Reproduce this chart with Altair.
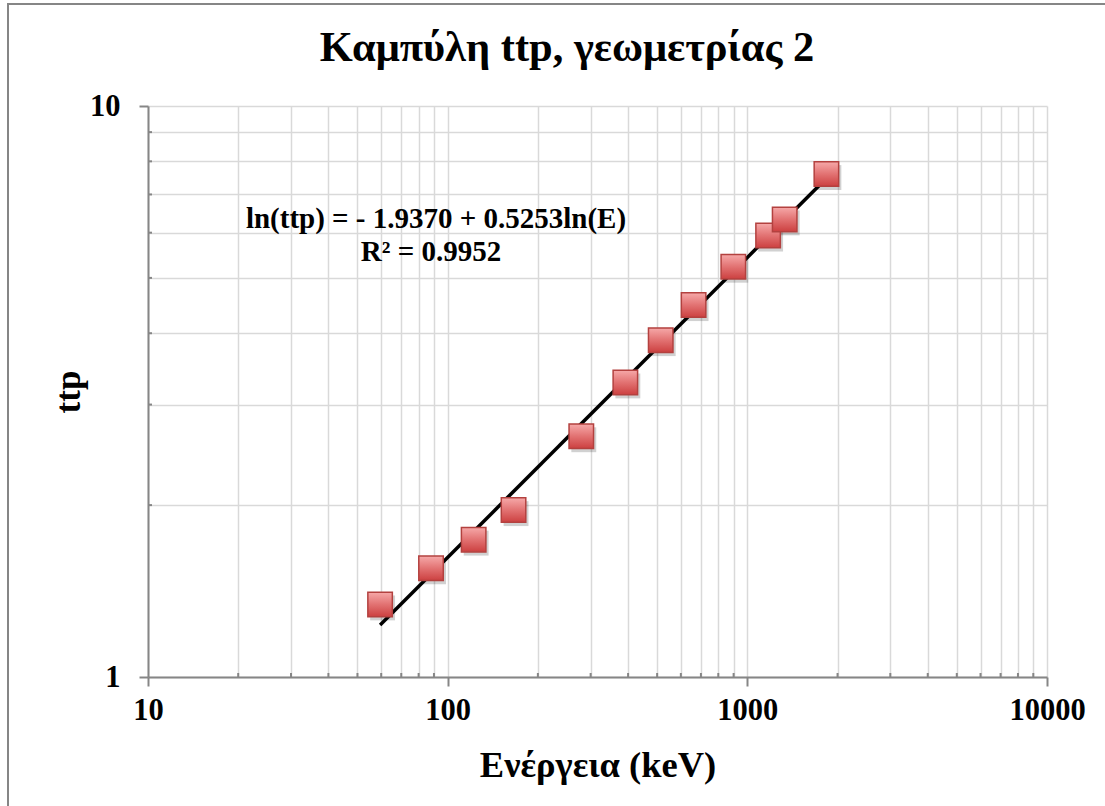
import altair as alt
import pandas as pd

# Calibration points: gamma energy (keV) and measured ttp
energy_kev = [59.5, 88.0, 122.1, 165.9, 279.2, 391.7, 514.0, 661.7, 898.0, 1173.2, 1332.5, 1836.1]
ttp_values = [1.34, 1.55, 1.74, 1.96, 2.64, 3.28, 3.89, 4.48, 5.23, 5.93, 6.33, 7.60]

# Fitted trend: ln(ttp) = a + b ln(E)
fit_a = -1.9370
fit_b = 0.5253
fit_r2 = 0.9952

# Log-axis grid positions and labelled decades
x_grid = [10, 20, 30, 40, 50, 60, 70, 80, 90,
          100, 200, 300, 400, 500, 600, 700, 800, 900,
          1000, 2000, 3000, 4000, 5000, 6000, 7000, 8000, 9000, 10000]
x_major = [10, 100, 1000, 10000]
y_grid = [1, 2, 3, 4, 5, 6, 7, 8, 9, 10]
y_major = [1, 10]
x_minor = [v for v in x_grid if v not in x_major]
y_minor = [v for v in y_grid if v not in y_major]

FONT = "Liberation Serif"
AXIS_GREY = "#868686"
GRID_GREY = "#d9d9d9"
W, H = 899, 571

points = pd.DataFrame({"E": energy_kev, "ttp": ttp_values})
fit_ends = pd.DataFrame({"E": [min(energy_kev), max(energy_kev)]})

x_scale = alt.Scale(type="log", domain=[10, 10000], nice=False)
y_scale = alt.Scale(type="log", domain=[1, 10], nice=False)


def major_test(values):
    return "indexof([" + ",".join(str(v) for v in values) + "], datum.value) >= 0"


x_axis = alt.Axis(
    values=x_grid,
    labelExpr=f"{major_test(x_major)} ? datum.value + '' : ''",
    title="Ενέργεια (keV)",
    titleFont=FONT, titleFontSize=36.5, titleFontWeight="bold", titleColor="black",
    titleX=W / 2, titleY=88, titleBaseline="middle", titleAnchor="middle",
    labelFont=FONT, labelFontSize=30.5, labelFontWeight="bold", labelColor="black",
    labelPadding=9, labelFlush=False, labelOverlap=False,
    grid=True, gridColor=GRID_GREY, gridWidth=1.5,
    domainColor=AXIS_GREY, domainWidth=2,
    tickSize=9, tickWidth=2,
    tickColor={"condition": {"test": major_test(x_major), "value": AXIS_GREY}, "value": "transparent"},
)

y_axis = alt.Axis(
    values=y_grid,
    labelExpr=f"{major_test(y_major)} ? datum.value + '' : ''",
    title="ttp",
    titleFont=FONT, titleFontSize=35, titleFontWeight="bold", titleColor="black",
    titleAngle=270, titleX=-80, titleY=H / 2, titleBaseline="middle", titleAlign="center",
    labelFont=FONT, labelFontSize=30.5, labelFontWeight="bold", labelColor="black",
    labelPadding=19, labelFlush=False, labelOverlap=False,
    grid=True, gridColor=GRID_GREY, gridWidth=1.5,
    domainColor=AXIS_GREY, domainWidth=2,
    tickSize=9, tickWidth=2,
    tickColor={"condition": {"test": major_test(y_major), "value": AXIS_GREY}, "value": "transparent"},
)

base = alt.Chart(points)

# Invisible layer carrying the axes and grid
axes_layer = base.mark_point(opacity=0).encode(
    x=alt.X("E:Q", scale=x_scale, axis=x_axis),
    y=alt.Y("ttp:Q", scale=y_scale, axis=y_axis),
)

# Small inward minor ticks
x_minor_ticks = alt.Chart(pd.DataFrame({"E": x_minor})).mark_rule(color=AXIS_GREY, strokeWidth=2).encode(
    x=alt.X("E:Q", scale=x_scale),
    y=alt.value(H), y2=alt.value(H - 4),
)
y_minor_ticks = alt.Chart(pd.DataFrame({"ttp": y_minor})).mark_rule(color=AXIS_GREY, strokeWidth=2).encode(
    y=alt.Y("ttp:Q", scale=y_scale),
    x=alt.value(0), x2=alt.value(4),
)

# Trend line computed from the fitted coefficients
trend = alt.Chart(fit_ends).transform_calculate(
    ttp=f"exp({fit_a} + {fit_b} * log(datum.E))"
).mark_line(color="black", strokeWidth=3.5).encode(
    x=alt.X("E:Q", scale=x_scale),
    y=alt.Y("ttp:Q", scale=y_scale),
)

shadow = base.mark_square(size=620, color="black", opacity=0.18, xOffset=2.5, yOffset=3.5).encode(
    x=alt.X("E:Q", scale=x_scale),
    y=alt.Y("ttp:Q", scale=y_scale),
)

markers = base.mark_square(
    size=600,
    fill=alt.Gradient(
        gradient="linear",
        stops=[alt.GradientStop(color="#f6a9a9", offset=0),
               alt.GradientStop(color="#e27272", offset=0.5),
               alt.GradientStop(color="#cc4040", offset=1)],
        x1=0, x2=0, y1=0, y2=1,
    ),
    fillOpacity=1,
    stroke="#b3413f",
    strokeWidth=1.5,
).encode(
    x=alt.X("E:Q", scale=x_scale),
    y=alt.Y("ttp:Q", scale=y_scale),
)

equation_text = f"ln(ttp) = - {abs(fit_a):.4f} + {fit_b:.4f}ln(E)"
r2_text = f"R² = {fit_r2:.4f}"


def text_line(txt, px, py, size):
    return alt.Chart(pd.DataFrame({"t": [txt]})).mark_text(
        font=FONT, fontSize=size, fontWeight="bold", color="black",
        align="center", baseline="middle"
    ).encode(text="t:N", x=alt.value(px), y=alt.value(py))


eq_label = text_line(equation_text, 288, 113, 29)
r2_label = text_line(r2_text, 283, 146, 29)
title = text_line("Καμπύλη ttp, γεωμετρίας 2", 419, -58, 42.5)

frame = alt.Chart(pd.DataFrame({"k": [0]})).mark_rect(
    fill="transparent", stroke=AXIS_GREY, strokeWidth=2
).encode(
    x=alt.value(-140), x2=alt.value(970),
    y=alt.value(-102), y2=alt.value(712),
)

chart = alt.layer(
    frame, axes_layer, x_minor_ticks, y_minor_ticks, trend, shadow, markers, eq_label, r2_label, title
).properties(
    width=W, height=H,
    padding={"left": 148, "top": 106, "right": 58, "bottom": 129},
    autosize=alt.AutoSizeParams(type="none"),
    background="white",
).configure_view(stroke=None)

chart.save("out.html", embed_options={"renderer": "svg", "actions": False})
